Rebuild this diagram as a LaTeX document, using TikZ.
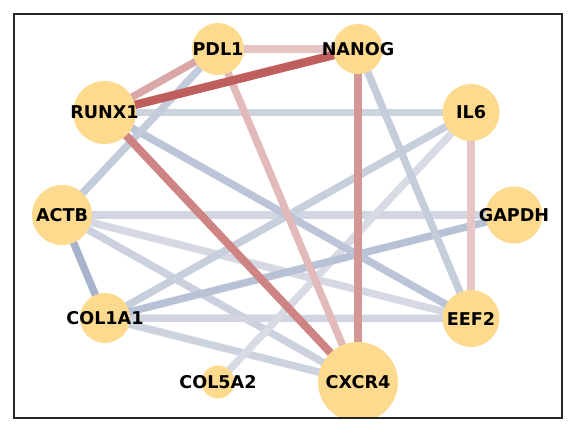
\documentclass[tikz,border=0pt]{standalone}
\usepackage{fontspec}
\setmainfont{DejaVu Sans}
\pgfdeclarelayer{edges}
\pgfsetlayers{edges,main}
\definecolor{nodefill}{HTML}{FEDA8F}
\definecolor{cA}{HTML}{E5C4C4}
\definecolor{cB}{HTML}{BE5F5E}
\definecolor{cC}{HTML}{D9A7A6}
\definecolor{cD}{HTML}{C3CCDB}
\definecolor{cE}{HTML}{CDD3DF}
\definecolor{cF}{HTML}{BCC5D7}
\definecolor{cG}{HTML}{CD8482}
\definecolor{cH}{HTML}{E2BAB9}
\definecolor{cI}{HTML}{D39896}
\definecolor{cJ}{HTML}{C5CDDB}
\definecolor{cK}{HTML}{E6C6C6}
\definecolor{cL}{HTML}{C8CFDC}
\definecolor{cM}{HTML}{D8DAE4}
\definecolor{cN}{HTML}{D2D6E2}
\definecolor{cO}{HTML}{D6D9E4}
\definecolor{cP}{HTML}{CBD1DE}
\definecolor{cQ}{HTML}{A6B3CB}
\definecolor{cR}{HTML}{B8C2D5}
\definecolor{cS}{HTML}{D0D5E1}
\definecolor{cT}{HTML}{CDD2DF}
\tikzset{
  gene/.style={circle, fill=nodefill, draw=none, inner sep=0pt},
  lbl/.style={inner sep=0pt, font=\fontsize{17.6}{21}\selectfont\bfseries, text=black},
  edge/.style={line width=7.5pt},
}
\begin{document}
\begin{tikzpicture}[x=1pt,y=-1pt]
\useasboundingbox (0,0) rectangle (576,432);
\begin{scope}
\clip (14,14) rectangle (562,418);
\node[gene, minimum size=52] (PDL1) at (218,49) {};
\node[gene, minimum size=50] (NANOG) at (358,49) {};
\node[gene, minimum size=63] (RUNX1) at (104.5,112.5) {};
\node[gene, minimum size=57] (IL6) at (471,112.5) {};
\node[gene, minimum size=60] (ACTB) at (62,215) {};
\node[gene, minimum size=57] (GAPDH) at (514,215) {};
\node[gene, minimum size=50] (COL1A1) at (105,318) {};
\node[gene, minimum size=57] (EEF2) at (471,318.5) {};
\node[gene, minimum size=33] (COL5A2) at (218,382) {};
\node[gene, minimum size=80] (CXCR4) at (358,382) {};
\end{scope}
\begin{pgfonlayer}{edges}
\draw[edge, cN] (ACTB.center) -- (GAPDH.center);
\draw[edge, cO] (ACTB.center) -- (EEF2.center);
\draw[edge, cP] (ACTB.center) -- (CXCR4.center);
\draw[edge, cS] (COL1A1.center) -- (EEF2.center);
\draw[edge, cT] (COL1A1.center) -- (CXCR4.center);
\draw[edge, cL] (IL6.center) -- (COL1A1.center);
\draw[edge, cM] (IL6.center) -- (COL5A2.center);
\draw[edge, cR] (GAPDH.center) -- (COL1A1.center);
\draw[edge, cQ] (ACTB.center) -- (COL1A1.center);
\draw[edge, cE] (RUNX1.center) -- (IL6.center);
\draw[edge, cF] (RUNX1.center) -- (EEF2.center);
\draw[edge, cJ] (NANOG.center) -- (EEF2.center);
\draw[edge, cD] (PDL1.center) -- (ACTB.center);
\draw[edge, cK] (IL6.center) -- (EEF2.center);
\draw[edge, cH] (PDL1.center) -- (CXCR4.center);
\draw[edge, cI, line width=8pt] (NANOG.center) -- (CXCR4.center);
\draw[edge, cG, line width=8pt] (RUNX1.center) -- (CXCR4.center);
\draw[edge, cC] (RUNX1.center) -- (PDL1.center);
\draw[edge, cA, line width=8pt] (PDL1.center) -- (NANOG.center);
\draw[edge, cB, line width=8.5pt] (RUNX1.center) -- (NANOG.center);
\end{pgfonlayer}
\node[lbl] at (PDL1) {PDL1};
\node[lbl] at (NANOG) {NANOG};
\node[lbl] at (RUNX1) {RUNX1};
\node[lbl] at (IL6) {IL6};
\node[lbl] at (ACTB) {ACTB};
\node[lbl] at (GAPDH) {GAPDH};
\node[lbl] at (COL1A1) {COL1A1};
\node[lbl] at (EEF2) {EEF2};
\node[lbl] at (COL5A2) {COL5A2};
\node[lbl] at (CXCR4) {CXCR4};
\draw[line width=1.1pt, black!85] (14,14) rectangle (562,418);
\end{tikzpicture}
\end{document}
